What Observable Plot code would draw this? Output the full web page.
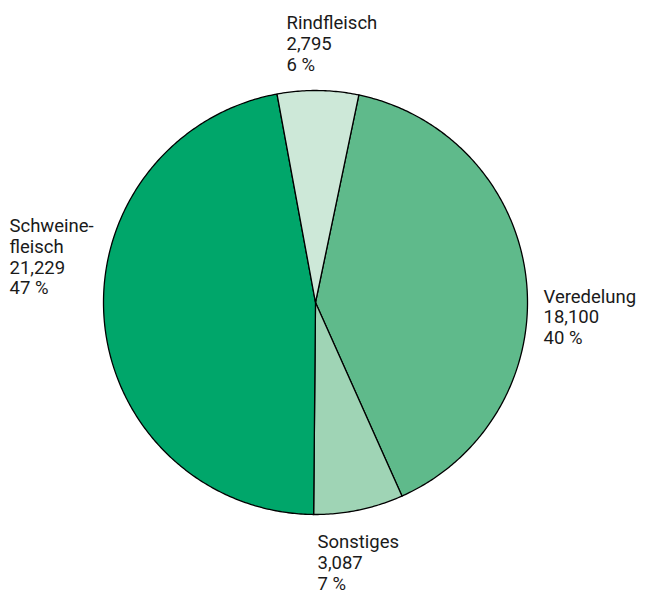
<!DOCTYPE html>
<html>
<head>
<meta charset="utf-8">
<script src="https://cdn.jsdelivr.net/npm/d3@7"></script>
<script src="https://cdn.jsdelivr.net/npm/@observablehq/plot@0.6"></script>
<style>
  html, body { margin: 0; padding: 0; background: #fff; }
  #chart { width: 645px; height: 595px; }
</style>
</head>
<body>
<div id="chart"></div>
<script>
// ---- data ----
const categories = ["Veredelung", "Sonstiges", "Schweinefleisch", "Rindfleisch"];
const values = [18100, 3087, 21229, 2795];
const valueLabels = ["18,100", "3,087", "21,229", "2,795"];
const percentLabels = ["40 %", "7 %", "47 %", "6 %"];
const nameLabels = ["Veredelung", "Sonstiges", "Schweine-\nfleisch", "Rindfleisch"];

// ---- style / layout ----
const colors = ["#5fba8b", "#9fd4b5", "#00a66a", "#cde8d8"];
const W = 645, H = 595, CX = 315, CY = 302, R = 212;
const startDeg = 11.8;
// label anchors (pixels, top-left of text block)
const labelPos = [[543, 287.5], [317, 533], [9, 217], [286, 14]];

const pie = d3.pie().sort(null).value(d => d)
  .startAngle(startDeg * Math.PI / 180)
  .endAngle(startDeg * Math.PI / 180 + 2 * Math.PI);
const arcs = pie(values);

const pts = [];
arcs.forEach((a, i) => {
  pts.push({cat: categories[i], x: 0, y: 0});
  const n = Math.max(2, Math.ceil((a.endAngle - a.startAngle) / 0.01));
  for (let k = 0; k <= n; k++) {
    const t = a.startAngle + (a.endAngle - a.startAngle) * k / n;
    pts.push({cat: categories[i], x: Math.sin(t), y: Math.cos(t)});
  }
});

const labels = categories.map((c, i) => ({
  cat: c,
  text: `${nameLabels[i]}\n${valueLabels[i]}\n${percentLabels[i]}`,
  x: (labelPos[i][0] - CX) / R,
  y: (CY - labelPos[i][1]) / R
}));

const chart = Plot.plot({
  width: W, height: H,
  margin: 0,
  style: {fontFamily: "Roboto, sans-serif", background: "#fff"},
  x: {domain: [-CX / R, (W - CX) / R], axis: null},
  y: {domain: [-(H - CY) / R, CY / R], axis: null},
  color: {domain: categories, range: colors},
  marks: [
    Plot.line(pts, {x: "x", y: "y", z: "cat", fill: "cat", stroke: "#000", strokeWidth: 1.3, curve: "linear-closed"}),
    Plot.text(labels, {x: "x", y: "y", text: "text", textAnchor: "start", lineAnchor: "top",
      fontSize: 18.5, lineHeight: 1.12, fill: "#1a1a1a"})
  ]
});
document.getElementById("chart").appendChild(chart);
</script>
</body>
</html>
